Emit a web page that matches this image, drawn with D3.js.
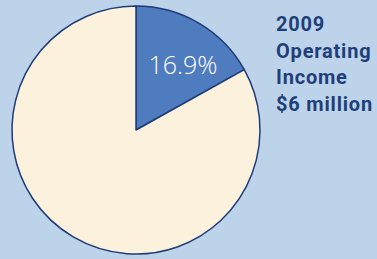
<!DOCTYPE html>
<html><head><meta charset="utf-8">
<script src="https://cdn.jsdelivr.net/npm/d3@7"></script>
<style>html,body{margin:0;padding:0;background:#bcd3ea;}svg{display:block;}</style>
</head><body>
<svg id="c" width="377" height="259"></svg>
<script>
const categories = ["Segment", "Other"];
const values = [16.9, 83.1];
const labels = ["16.9%", ""];
const titleLines = ["2009", "Operating", "Income", "$6 million"];
const colors = ["#4f7bbf", "#fcf1dc"];

const svg = d3.select("#c");
svg.append("rect").attr("width",377).attr("height",259).attr("fill","#bcd3ea");
const cx = 136, cy = 130, r = 124;
const pie = d3.pie().sort(null).value(d => d)(values);
const arc = d3.arc().innerRadius(0).outerRadius(r);
const g = svg.append("g").attr("transform", `translate(${cx},${cy})`);
g.selectAll("path").data(pie).join("path")
  .attr("d", arc)
  .attr("fill", (d,i) => colors[i])
  .attr("stroke", "#1f3c78").attr("stroke-width", 1.5).attr("stroke-linejoin","round");
g.append("text")
  .attr("x", 47).attr("y", -56)
  .attr("text-anchor","middle")
  .attr("fill","#ffffff")
  .attr("font-family","'Open Sans', sans-serif").attr("font-weight",300)
  .attr("font-size",25)
  .text(labels[0]);
const t = svg.append("g");
titleLines.forEach((s,i) => {
  t.append("text").attr("x",276).attr("y",31 + i*26.7)
   .attr("fill","#1f3f7a")
   .attr("font-family","Roboto, sans-serif").attr("font-weight",700)
   .attr("font-size",20).attr("letter-spacing",0.8)
   .text(s);
});
</script>
</body></html>
